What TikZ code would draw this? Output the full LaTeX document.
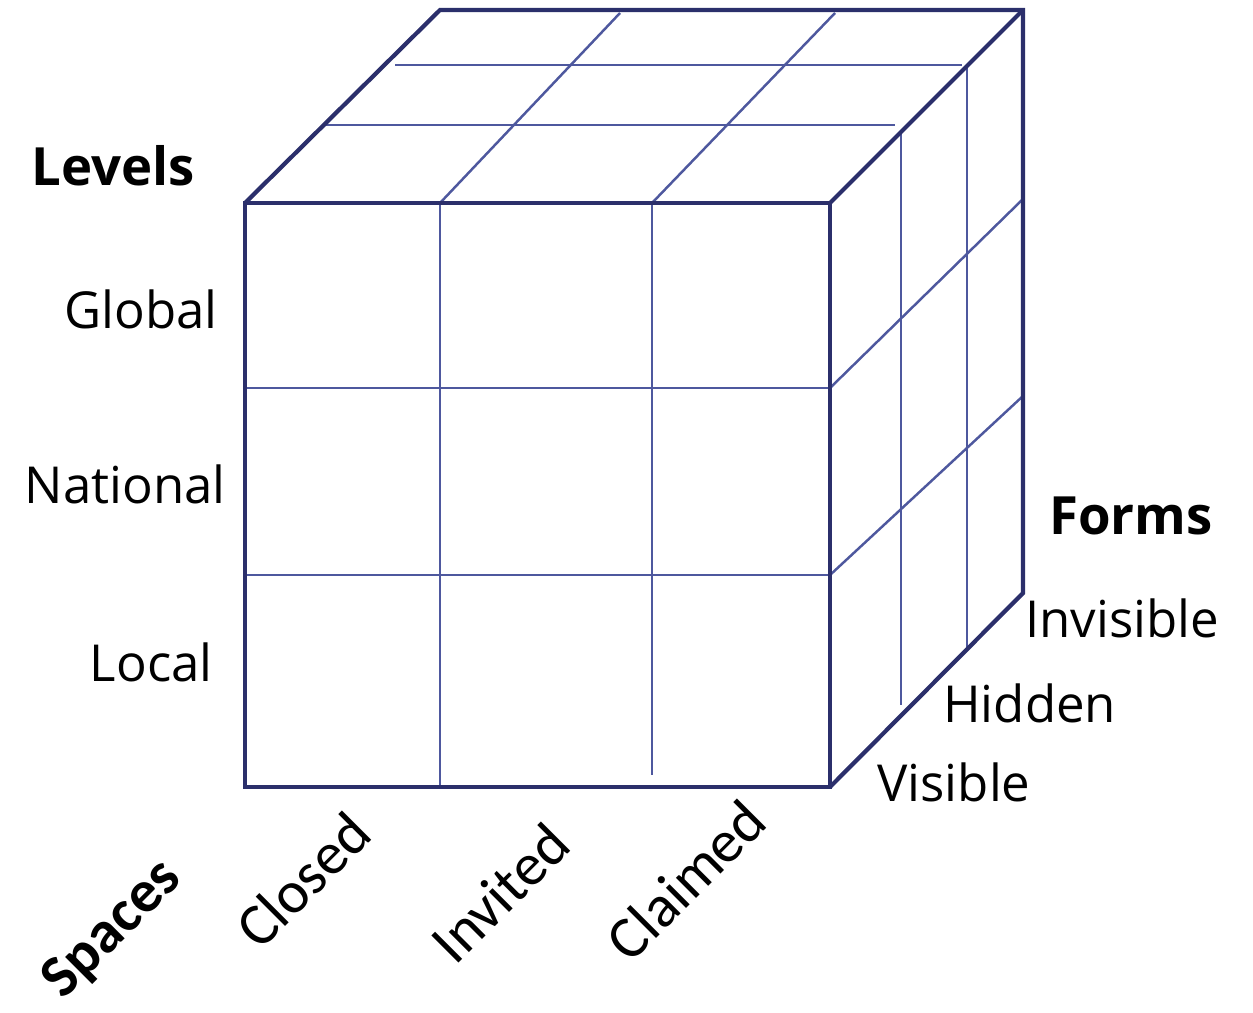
\documentclass[tikz,border=0pt]{standalone}
\usepackage{fontspec}
\setmainfont{Open Sans}
\newfontfamily\spacesfont{Carlito}
\definecolor{cubeedge}{RGB}{43,47,107}
\definecolor{cubegrid}{RGB}{78,88,158}
\tikzset{
  cubeline/.style={draw=cubeedge,line width=2.4pt,line join=miter},
  gridline/.style={draw=cubegrid,line width=1.4pt},
  levelname/.style={inner sep=0pt,font=\fontsize{29}{29}\selectfont},
  axisname/.style={inner sep=0pt,font=\fontsize{30}{30}\selectfont\bfseries},
  spacename/.style={inner sep=0pt,rotate=45,font=\spacesfont\fontsize{34}{34}\selectfont},
}

\begin{document}
\begin{tikzpicture}[x=0.02cm,y=-0.02cm]
            \useasboundingbox (0,0) rectangle (1253,1013);

            \coordinate (frontBL) at (245,787);
            \coordinate (frontBR) at (830,787);
            \coordinate (frontTR) at (830,203);
            \coordinate (frontTL) at (245,203);
            \coordinate (backTL) at (440,10);
            \coordinate (backTR) at (1023,10);
            \coordinate (backBR) at (1023,593);

            % front face
            \draw[gridline] (440,203) -- (440,787);
            \draw[gridline] (652,203) -- (652,775);
            \draw[gridline] (245,388) -- (830,388);
            \draw[gridline] (245,575) -- (830,575);

            % top face
            \draw[gridline] (440,203) -- (620,13);
            \draw[gridline] (652,203) -- (835,13);
            \draw[gridline] (324,125) -- (895,125);
            \draw[gridline] (395,65) -- (962,65);

            % right face
            \draw[gridline] (901,132) -- (901,705);
            \draw[gridline] (967,66) -- (967,648);
            \draw[gridline] (830,388) -- (1023,199);
            \draw[gridline] (830,575) -- (1023,396);

            \draw[cubeline] (frontBL) -- (frontBR) -- (frontTR) -- (frontTL) -- cycle;
            \draw[cubeline] (frontTL) -- (backTL) -- (backTR) -- (backBR) -- (frontBR);
            \draw[cubeline] (frontTR) -- (backTR);

            \node[axisname] (levels) at (113,166) {Levels};
            \node[levelname,anchor=east] (global) at (218,309) {Global};
            \node[levelname,anchor=east] (national) at (226,484) {National};
            \node[levelname,anchor=east] (local) at (213,662) {Local};

            \node[axisname] (forms) at (1131,516) {Forms};
            \node[levelname,anchor=west] (invisible) at (1025,618) {Invisible};
            \node[levelname,anchor=west] (hidden) at (943,703) {Hidden};
            \node[levelname,anchor=west] (visible) at (877,782) {Visible};

            \node[spacename,font=\spacesfont\fontsize{34}{34}\selectfont\bfseries] (spaces) at (113,930) {Spaces};
            \node[spacename] (closed) at (303,880) {Closed};
            \node[spacename] (invited) at (500,893) {Invited};
            \node[spacename] (claimed) at (686,880) {Claimed};
        \end{tikzpicture}
\end{document}
